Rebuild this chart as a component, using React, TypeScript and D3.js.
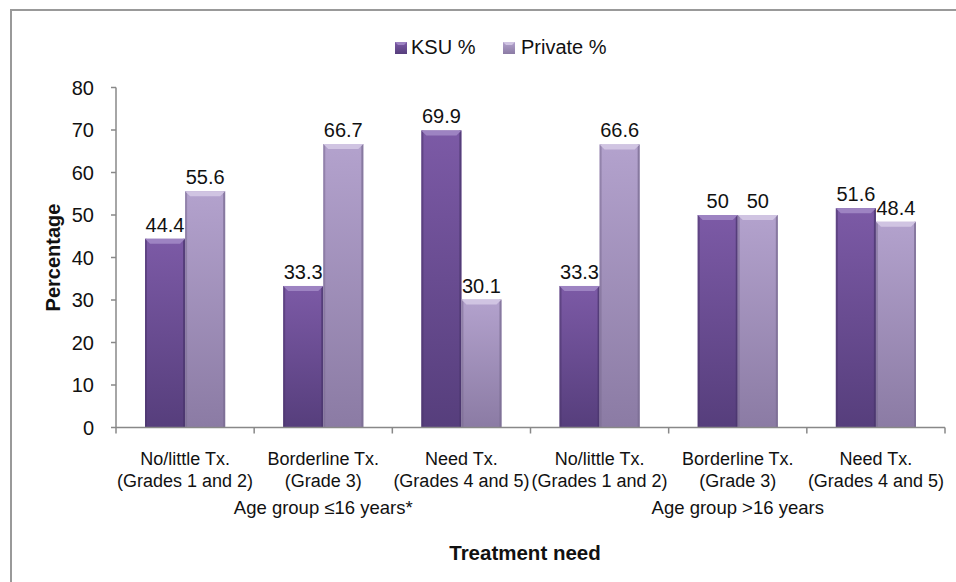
import React from "react";
import * as d3 from "d3";

const categories = ["c1", "c2", "c3", "c4", "c5", "c6"];
const catLine1 = ["No/little Tx.", "Borderline Tx.", "Need Tx.", "No/little Tx.", "Borderline Tx.", "Need Tx."];
const catLine2 = ["(Grades 1 and 2)", "(Grade 3)", "(Grades 4 and 5)", "(Grades 1 and 2)", "(Grade 3)", "(Grades 4 and 5)"];
const groups = ["Age group \u226416 years*", "Age group >16 years"];
const series = ["KSU %", "Private %"];
const ksu = [44.4, 33.3, 69.9, 33.3, 50, 51.6];
const priv = [55.6, 66.7, 30.1, 66.6, 50, 48.4];
const labelsKsu = ["44.4", "33.3", "69.9", "33.3", "50", "51.6"];
const labelsPriv = ["55.6", "66.7", "30.1", "66.6", "50", "48.4"];
const yTicks = [0, 10, 20, 30, 40, 50, 60, 70, 80];

const FONT = "'Liberation Sans', Arial, sans-serif";

export default function App() {
  const W = 956, H = 582;
  const left = 116, right = 945, top = 87.5, bottom = 427.5;
  const x = d3.scaleBand().domain(categories).range([left, right]).paddingInner(0).paddingOuter(0);
  const inner = d3.scaleBand().domain(series).range([29, x.bandwidth() - 29]).padding(0);
  const y = d3.scaleLinear().domain([0, 80]).range([bottom, top]);

  const styles = [
    { top: "#7c5aa6", bottom: "#563e7c", bevel: "#9d83c2", edge: "#4a356c", id: "gK" },
    { top: "#b3a2cd", bottom: "#8b7ba4", bevel: "#d0c4e2", edge: "#7a6c92", id: "gP" },
  ];
  const data = [ksu, priv];
  const labels = [labelsKsu, labelsPriv];

  const bars: React.ReactNode[] = [];
  categories.forEach((c, i) => {
    series.forEach((s, j) => {
      const v = data[j][i];
      const bx = (x(c) as number) + (inner(s) as number);
      const bw = inner.bandwidth();
      const by = y(v);
      const bh = bottom - by;
      const st = styles[j];
      const b = 5;
      bars.push(
        <g key={c + s}>
          <rect x={bx} y={by} width={bw} height={bh} fill={`url(#${st.id})`} />
          <rect x={bx} y={by} width={2} height={bh} fill={st.edge} opacity={0.55} />
          <rect x={bx + bw - 2} y={by} width={2} height={bh} fill={st.edge} opacity={0.75} />
          <polygon
            points={`${bx},${by} ${bx + bw},${by} ${bx + bw - b},${by + b} ${bx + b},${by + b}`}
            fill={st.bevel}
          />
          <text x={bx + bw / 2} y={by - 7} textAnchor="middle" fontSize={20} fontFamily={FONT} fill="#111">
            {labels[j][i]}
          </text>
        </g>
      );
    });
  });

  return (
    <svg width={W} height={H} style={{ position: "absolute", left: 0, top: 0, background: "#fff" }}>
      <defs>
        {styles.map((st) => (
          <linearGradient key={st.id} id={st.id} x1="0" y1="0" x2="0" y2="1">
            <stop offset="0" stopColor={st.top} />
            <stop offset="1" stopColor={st.bottom} />
          </linearGradient>
        ))}
      </defs>
      <rect x={11} y={10} width={W + 20} height={H + 20} fill="#fff" stroke="#999" strokeWidth={2} />

      {/* legend */}
      <rect x={395} y={42} width={12} height={12} fill="url(#gK)" />
      <polygon points="395,42 407,42 404,45 398,45" fill={styles[0].bevel} />
      <text x={411} y={54} fontSize={20} fontFamily={FONT} fill="#111">{series[0]}</text>
      <rect x={503} y={42} width={12} height={12} fill="url(#gP)" />
      <polygon points="503,42 515,42 512,45 506,45" fill={styles[1].bevel} />
      <text x={521} y={54} fontSize={20} fontFamily={FONT} fill="#111">{series[1]}</text>

      {/* y axis */}
      <line x1={left} x2={left} y1={top} y2={bottom} stroke="#888" strokeWidth={1.5} />
      {yTicks.map((t) => (
        <g key={t}>
          <line x1={left - 5} x2={left} y1={y(t)} y2={y(t)} stroke="#888" strokeWidth={1.5} />
          <text x={left - 22} y={y(t) + 7} textAnchor="end" fontSize={20} fontFamily={FONT} fill="#111">
            {t}
          </text>
        </g>
      ))}
      <text
        transform={`translate(60, ${(top + bottom) / 2}) rotate(-90)`}
        textAnchor="middle"
        fontSize={20}
        fontWeight="bold"
        fontFamily={FONT}
        fill="#111"
      >
        Percentage
      </text>

      {bars}

      {/* x axis */}
      <line x1={left} x2={right} y1={bottom} y2={bottom} stroke="#888" strokeWidth={1.5} />
      {[...categories.map((c) => x(c) as number), right].map((tx, i) => (
        <line key={i} x1={tx} x2={tx} y1={bottom} y2={bottom + 6} stroke="#888" strokeWidth={1.5} />
      ))}
      {categories.map((c, i) => {
        const cx = (x(c) as number) + x.bandwidth() / 2;
        return (
          <g key={c}>
            <text x={cx} y={465} textAnchor="middle" fontSize={18} fontFamily={FONT} fill="#111">{catLine1[i]}</text>
            <text x={cx} y={487} textAnchor="middle" fontSize={18} fontFamily={FONT} fill="#111">{catLine2[i]}</text>
          </g>
        );
      })}
      {groups.map((g, gi) => {
        const x0 = x(categories[gi * 3]) as number;
        const x1 = (x(categories[gi * 3 + 2]) as number) + x.bandwidth();
        return (
          <text key={g} x={(x0 + x1) / 2} y={514} textAnchor="middle" fontSize={18.5} fontFamily={FONT} fill="#111">
            {g}
          </text>
        );
      })}
      <text x={525} y={560} textAnchor="middle" fontSize={20.5} fontWeight="bold" fontFamily={FONT} fill="#111">
        Treatment need
      </text>
    </svg>
  );
}
